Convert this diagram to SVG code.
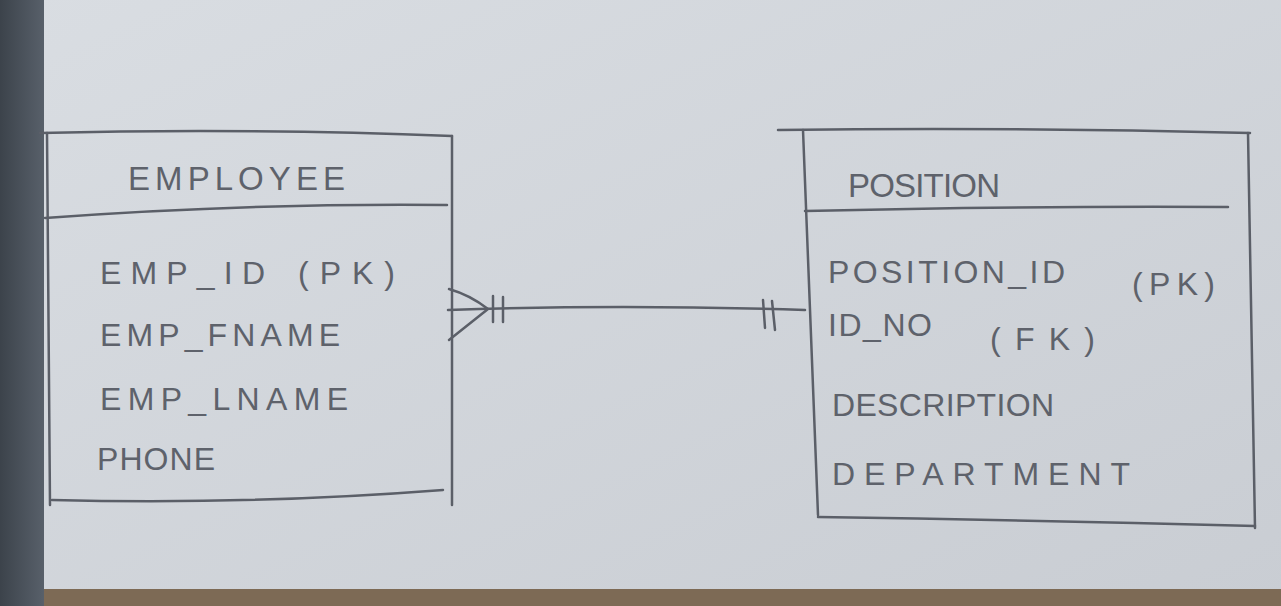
<svg xmlns="http://www.w3.org/2000/svg" width="1281" height="606" viewBox="0 0 1281 606">
<defs>
<linearGradient id="paper" x1="0" y1="0" x2="1" y2="1">
<stop offset="0" stop-color="#d9dde2"/>
<stop offset="1" stop-color="#c9cdd3"/>
</linearGradient>
<linearGradient id="shade" x1="0" y1="0" x2="1" y2="0">
<stop offset="0" stop-color="#3c434b"/>
<stop offset="1" stop-color="#58606a"/>
</linearGradient>
</defs>
<style>
.ln{fill:none;stroke:#5b5f68;stroke-width:2.5;stroke-linecap:round;stroke-linejoin:round}
.t{font-family:"Liberation Sans","DejaVu Sans",sans-serif;fill:#5e626b}
.title{font-size:33px}
.attr{font-size:32px}
</style>
<rect x="0" y="0" width="1281" height="606" fill="url(#paper)"/>
<rect x="0" y="589" width="1281" height="17" fill="#7d6a55"/>
<rect x="0" y="0" width="44" height="606" fill="url(#shade)"/>
<g id="employee">
<path class="ln" d="M40 133 Q250 128 452 136"/>
<path class="ln" d="M47 133 L50 505"/>
<path class="ln" d="M452 136 L452 505"/>
<path class="ln" d="M45 218 Q250 203 447 205"/>
<path class="ln" d="M52 500 Q250 505 443 490"/>
<text class="t title" x="128" y="190" textLength="217" lengthAdjust="spacing">EMPLOYEE</text>
<text class="t attr" x="100" y="284" textLength="165" lengthAdjust="spacing">EMP_ID</text>
<text class="t attr" x="298" y="284" textLength="97" lengthAdjust="spacing">(PK)</text>
<text class="t attr" x="100" y="346" textLength="240" lengthAdjust="spacing">EMP_FNAME</text>
<text class="t attr" x="100" y="410" textLength="248" lengthAdjust="spacing">EMP_LNAME</text>
<text class="t attr" x="97" y="470" textLength="118" lengthAdjust="spacing">PHONE</text>
</g>
<g id="position">
<path class="ln" d="M778 130 Q1010 127 1250 133"/>
<path class="ln" d="M803 130 L818 515"/>
<path class="ln" d="M1248 133 L1255 528"/>
<path class="ln" d="M805 211 Q1000 206 1228 207"/>
<path class="ln" d="M818 517 Q1030 520 1255 526"/>
<text class="t title" x="848" y="197" textLength="152" lengthAdjust="spacing">POSITION</text>
<text class="t attr" x="828" y="283" textLength="237" lengthAdjust="spacing">POSITION_ID</text>
<text class="t attr" x="1132" y="295" textLength="83" lengthAdjust="spacing">(PK)</text>
<text class="t attr" x="828" y="336" textLength="104" lengthAdjust="spacing">ID_NO</text>
<text class="t attr" x="990" y="350" textLength="105" lengthAdjust="spacing">(FK)</text>
<text class="t attr" x="832" y="416" textLength="222" lengthAdjust="spacing">DESCRIPTION</text>
<text class="t attr" x="832" y="485" textLength="298" lengthAdjust="spacing">DEPARTMENT</text>
</g>
<g id="connectors">
<path class="ln" d="M448 310 Q620 304 805 310"/>
<path class="ln" d="M449 289 Q470 295 488 309 L449 340"/>
<path class="ln" d="M493 296 L493 322 M503 297 L503 322"/>
<path class="ln" d="M763 300 L765 328 M772 301 L775 330"/>
</g>
</svg>
